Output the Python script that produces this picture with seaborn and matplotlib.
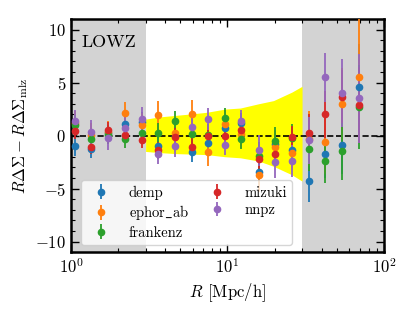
import numpy as np
import matplotlib
matplotlib.use("Agg")
import matplotlib.pyplot as plt
import seaborn as sns
from matplotlib.ticker import MultipleLocator

# Radial bins (Mpc/h)
r_bins = [1.06, 1.35, 1.73, 2.21, 2.83, 3.62, 4.62, 5.91, 7.55, 9.65,
          12.3, 15.8, 20.2, 25.8, 33.0, 42.1, 53.9, 68.9]

series_names = ["demp", r"ephor$\_$ab", "frankenz", "mizuki", "nnpz"]

demp = [-1.0, -1.25, 0.2, 1.1, 1.3, -0.95, 0.0, -1.55, -0.7, 0.72,
        1.2, -3.45, -0.8, -1.4, -4.3, -1.7, -0.85, 4.6]
ephor_ab = [1.2, 0.1, 0.3, 2.1, 1.0, 1.9, 0.2, 2.0, -1.55, 1.1,
            0.15, -3.75, -1.07, -1.65, -0.3, -0.65, 3.0, 5.55]
frankenz = [1.0, -0.3, 0.1, -0.3, 0.25, 0.25, 1.35, 0.15, 0.1, 1.65,
            -0.3, -1.95, -0.53, -0.2, -1.3, -2.4, -1.5, 2.7]
mizuki = [0.4, -1.05, 0.55, 0.03, -0.45, -1.4, -0.1, -1.07, 0.0, -0.05,
          0.55, -2.25, -1.7, -0.13, 0.25, 2.0, 3.65, 2.9]
nnpz = [1.35, 0.35, -0.25, 0.73, 1.57, -1.7, -1.0, 0.8, 1.57, -0.85,
        1.4, -1.4, -2.5, -2.4, -0.45, 5.5, 4.0, 3.5]

demp_err = [0.9] * 5 + [0.9] * 6 + [1.2] * 3 + [2.0, 2.3, 2.8, 4.0]
ephor_ab_err = [1.1] * 5 + [1.35] * 6 + [1.6] * 3 + [2.6, 3.0, 3.4, 6.0]
frankenz_err = [0.9] * 5 + [0.95] * 6 + [1.3] * 3 + [2.0, 2.05, 2.65, 4.0]
mizuki_err = [0.7] * 5 + [0.8] * 6 + [1.0] * 3 + [1.8, 2.2, 2.5, 3.6]
nnpz_err = [1.1] * 5 + [1.0] * 6 + [1.5] * 3 + [2.2, 2.3, 3.2, 4.2]

# Yellow uncertainty band
band_r = [3.0, 3.62, 4.62, 5.91, 7.4, 9.65, 12.1, 15.8, 19.7, 25.8, 30.0]
band_hi = [1.55, 1.75, 1.9, 2.05, 2.2, 2.5, 2.6, 3.0, 3.3, 4.1, 4.65]
band_lo = [-1.5, -1.6, -1.7, -1.75, -1.8, -2.0, -2.1, -2.4, -2.9, -3.7, -4.3]

values = [demp, ephor_ab, frankenz, mizuki, nnpz]
errors = [demp_err, ephor_ab_err, frankenz_err, mizuki_err, nnpz_err]

sns.set_style("ticks")
plt.rcParams["font.family"] = ["cmr10", "DejaVu Serif"]
plt.rcParams["mathtext.fontset"] = "cm"
plt.rcParams["axes.formatter.use_mathtext"] = True
plt.rcParams["axes.unicode_minus"] = True
plt.rcParams["axes.edgecolor"] = "black"
plt.rcParams["xtick.color"] = "black"
plt.rcParams["ytick.color"] = "black"
plt.rcParams["text.color"] = "black"
plt.rcParams["axes.labelcolor"] = "black"

colors = sns.color_palette("tab10", 5)

fig = plt.figure(figsize=(4.15, 3.12), dpi=100)
ax = fig.add_axes([0.171, 0.192, 0.754, 0.747])

ax.axvspan(1, 3, color="lightgray", lw=0, zorder=0)
ax.axvspan(30, 100, color="lightgray", lw=0, zorder=0)
ax.fill_between(band_r, band_lo, band_hi, color="yellow", lw=0, zorder=1)
ax.axhline(0, color="black", ls="--", lw=1.2, zorder=2)

for name, vals, errs, c in zip(series_names, values, errors, colors):
    ax.errorbar(r_bins, vals, yerr=errs, fmt="o", color=c, ms=4.5,
                elinewidth=1.3, capsize=0, label=name, zorder=3)

ax.set_xscale("log")
ax.set_xlim(1, 100)
ax.set_ylim(-11, 11)
ax.yaxis.set_major_locator(MultipleLocator(5))
ax.yaxis.set_minor_locator(MultipleLocator(1))

ax.tick_params(which="both", direction="in", top=True, right=True,
               labelsize=12)
ax.tick_params(which="major", length=6, width=1)
ax.tick_params(which="minor", length=3, width=0.8)
for sp in ax.spines.values():
    sp.set_linewidth(1.8)

ax.set_xlabel(r"$R$ [Mpc/h]", fontsize=12)
ax.set_ylabel(r"$R\Delta\Sigma - R\Delta\Sigma_{\rm mlz}$", fontsize=12)

ax.text(0.035, 0.935, "LOWZ", transform=ax.transAxes, fontsize=13,
        va="top", ha="left")

ax.legend(loc="lower left", ncol=2, fontsize=10.5, frameon=True,
          columnspacing=0.9, handletextpad=0.9, borderpad=0.35,
          labelspacing=0.25, bbox_to_anchor=(0.01, 0.0))

fig.savefig("out.png", dpi=100)
